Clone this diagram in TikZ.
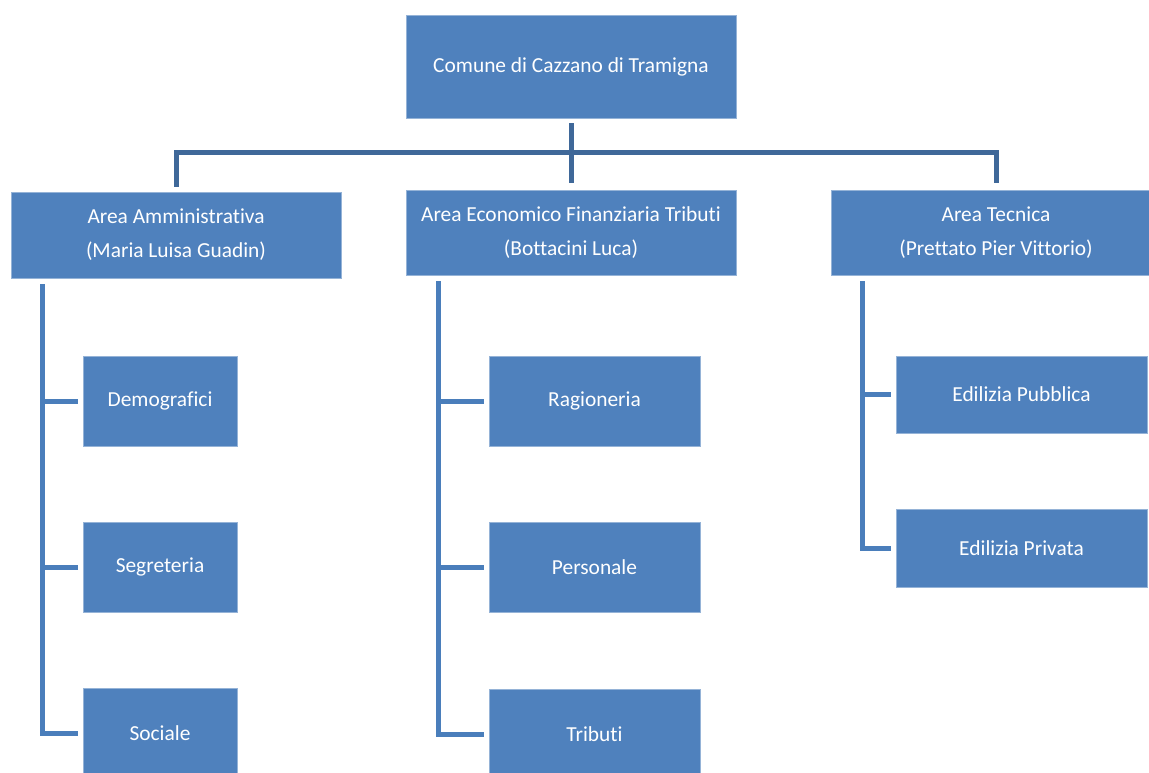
\documentclass[tikz,border=0pt]{standalone}
\usepackage{fontspec}
\setmainfont{Carlito}[Ligatures={NoCommon}]
\usetikzlibrary{calc}
\definecolor{boxblue}{HTML}{4F81BD}
\definecolor{topline}{HTML}{3F6899}
\definecolor{subline}{HTML}{4A7EBB}
\tikzset{
  orgbox/.style={rectangle, fill=boxblue, draw=boxblue!60!white, line width=0.6pt,
    inner sep=0pt, text=white, align=center,
    font=\fontsize{21.4}{34}\selectfont},
  topconn/.style={draw=topline, line width=5pt, line join=miter},
  subconn/.style={draw=subline, line width=5pt, line join=miter}
}
\begin{document}
\begin{tikzpicture}[x=1pt,y=-1pt]
\useasboundingbox (0,0) rectangle (1149,772);
\clip (0,0) rectangle (1149,772);
\fill[white] (0,0) rectangle (1149,772);

% top
\node[orgbox, minimum width=330, minimum height=103] (top) at (571,66.5) {Comune di Cazzano di Tramigna};

% level 2
\node[orgbox, minimum width=330, minimum height=86] (amm) at (176,235) {Area Amministrativa\\(Maria Luisa Guadin)};
\node[orgbox, minimum width=330, minimum height=85] (eco) at (571,232.5) {Area Economico Finanziaria Tributi\\(Bottacini Luca)};
\node[orgbox, minimum width=330, minimum height=85] (tec) at (996,232.5) {Area Tecnica\\(Prettato Pier Vittorio)};

% level 3
\node[orgbox, minimum width=154, minimum height=90] (dem) at (160,401) {Demografici};
\node[orgbox, minimum width=154, minimum height=90] (seg) at (160,567) {Segreteria};
\node[orgbox, minimum width=154, minimum height=90] (soc) at (160,733) {Sociale};

\node[orgbox, minimum width=211, minimum height=90] (rag) at (594.5,401) {Ragioneria};
\node[orgbox, minimum width=211, minimum height=90] (per) at (594.5,567.5) {Personale};
\node[orgbox, minimum width=211, minimum height=90] (trib) at (594.5,734) {Tributi};

\node[orgbox, minimum width=251, minimum height=77] (edpub) at (1021.5,394.5) {Edilizia Pubblica};
\node[orgbox, minimum width=251, minimum height=78] (edpriv) at (1021.5,548) {Edilizia Privata};

% top connectors
\draw[topconn, shorten <=5pt, shorten >=7pt] (top.south) -- (eco.north);
\draw[topconn, shorten <=5pt, shorten >=7pt] (amm.north) -- ++(0,-39) -| (tec.north);

% left column
\coordinate (la) at (42,284);
\draw[subconn, shorten >=5pt] (la) |- (soc.west);
\draw[subconn, shorten >=5pt] (la |- dem.west) -- (dem.west);
\draw[subconn, shorten >=5pt] (la |- seg.west) -- (seg.west);

% middle column
\coordinate (ma) at (438,281);
\draw[subconn, shorten >=5pt] (ma) |- (trib.west);
\draw[subconn, shorten >=5pt] (ma |- rag.west) -- (rag.west);
\draw[subconn, shorten >=5pt] (ma |- per.west) -- (per.west);

% right column
\coordinate (ra) at (862,281);
\draw[subconn, shorten >=5pt] (ra) |- (edpriv.west);
\draw[subconn, shorten >=5pt] (ra |- edpub.west) -- (edpub.west);
\end{tikzpicture}
\end{document}
